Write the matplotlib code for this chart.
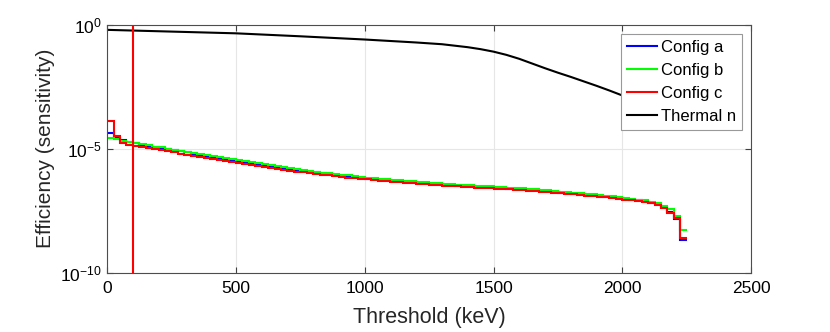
import numpy as np
import matplotlib.pyplot as plt
from matplotlib.ticker import FixedLocator, LogFormatterSciNotation, NullLocator

plt.rcParams.update({
    "font.family": ["Liberation Sans", "DejaVu Sans"],
    "mathtext.fontset": "custom",
    "mathtext.rm": "Liberation Sans",
    "mathtext.it": "Liberation Sans:italic",
    "font.size": 12,
})

# bin edges of the threshold scan (keV)
BIN_START = 0
BIN_WIDTH = 25
N_BINS = 90

# log10 of efficiency per bin
config_b_log = [
    -4.56, -4.60, -4.68, -4.73,
    -4.76, -4.81, -4.86, -4.91, -4.95, -5.00, -5.04, -5.09, -5.13, -5.18,
    -5.22, -5.26, -5.30, -5.35, -5.39, -5.43, -5.47, -5.51, -5.55, -5.59,
    -5.63, -5.67, -5.71, -5.74, -5.78, -5.82, -5.85, -5.89, -5.92, -5.96,
    -5.99, -6.02, -6.05, -6.08, -6.11, -6.14, -6.17, -6.19, -6.22, -6.24,
    -6.26, -6.28, -6.30, -6.32, -6.34, -6.36, -6.38, -6.40, -6.42, -6.43,
    -6.45, -6.46, -6.48, -6.49, -6.51, -6.52, -6.54, -6.55, -6.57, -6.58,
    -6.60, -6.62, -6.64, -6.66, -6.68, -6.70, -6.73, -6.75, -6.77, -6.80,
    -6.82, -6.84, -6.87, -6.89, -6.92, -6.95, -6.98, -7.01, -7.05, -7.09,
    -7.14, -7.20, -7.30, -7.45, -7.70, -8.30,
]
config_a_log = [
    -4.36, -4.55, -4.66, -4.72,
    -4.78, -4.83, -4.88, -4.93, -4.97, -5.02, -5.06, -5.11, -5.15, -5.20,
    -5.24, -5.28, -5.32, -5.37, -5.41, -5.45, -5.49, -5.53, -5.57, -5.61,
    -5.65, -5.69, -5.73, -5.77, -5.81, -5.85, -5.88, -5.92, -5.95, -5.99,
    -6.02, -6.05, -6.09, -6.12, -6.15, -6.18, -6.21, -6.23, -6.26, -6.28,
    -6.30, -6.32, -6.34, -6.36, -6.38, -6.40, -6.42, -6.44, -6.46, -6.47,
    -6.49, -6.50, -6.52, -6.53, -6.55, -6.56, -6.58, -6.59, -6.61, -6.62,
    -6.64, -6.66, -6.68, -6.70, -6.72, -6.74, -6.77, -6.79, -6.81, -6.84,
    -6.86, -6.88, -6.91, -6.93, -6.96, -6.99, -7.02, -7.05, -7.09, -7.13,
    -7.18, -7.25, -7.37, -7.55, -7.85, -8.70,
]
config_c_log = [
    -3.87, -4.48, -4.77, -4.85,
    -4.88, -4.92, -4.97, -5.02, -5.06, -5.11, -5.15, -5.20, -5.24, -5.29,
    -5.33, -5.37, -5.41, -5.46, -5.50, -5.54, -5.58, -5.62, -5.66, -5.70,
    -5.74, -5.78, -5.82, -5.85, -5.89, -5.92, -5.95, -5.98, -6.01, -6.05,
    -6.08, -6.11, -6.14, -6.17, -6.19, -6.22, -6.24, -6.27, -6.29, -6.31,
    -6.33, -6.35, -6.37, -6.39, -6.41, -6.43, -6.45, -6.47, -6.49, -6.50,
    -6.52, -6.53, -6.55, -6.57, -6.58, -6.60, -6.61, -6.63, -6.64, -6.66,
    -6.67, -6.69, -6.71, -6.73, -6.75, -6.77, -6.80, -6.82, -6.84, -6.87,
    -6.89, -6.91, -6.94, -6.96, -6.99, -7.02, -7.05, -7.08, -7.12, -7.16,
    -7.21, -7.28, -7.40, -7.58, -7.80, -8.60,
]

# thermal neutron efficiency (keV, log10)
thermal_e = [0, 250, 500, 750, 1000, 1100, 1200, 1300, 1400, 1450, 1500, 1550,
             1600, 1650, 1700, 1750, 1800, 1850, 1900, 1950, 2000, 2050, 2100]
thermal_log = [-0.20, -0.27, -0.34, -0.46, -0.59, -0.65, -0.71, -0.78, -0.90, -0.98,
               -1.08, -1.21, -1.37, -1.56, -1.75, -1.93, -2.10, -2.28, -2.46, -2.65,
               -2.85, -3.05, -3.25]

cut_threshold = 100  # keV

edges = BIN_START + BIN_WIDTH * np.arange(N_BINS + 1)

fig = plt.figure(figsize=(8.3, 3.32), dpi=100)
ax = fig.add_axes([0.129, 0.179, 0.776, 0.746])

ax.stairs(10.0 ** np.array(config_a_log), edges, baseline=None, color=(0, 0, 1), lw=1.5, label="Config a")
ax.stairs(10.0 ** np.array(config_b_log), edges, baseline=None, color=(0, 1, 0), lw=1.5, label="Config b")
ax.stairs(10.0 ** np.array(config_c_log), edges, baseline=None, color=(1, 0, 0), lw=1.5, label="Config c")
ax.plot(thermal_e, 10.0 ** np.array(thermal_log), color="black", lw=1.5, label="Thermal n")
ax.axvline(cut_threshold, color=(1, 0, 0), lw=1.5)

ax.set_yscale("log")
ax.set_xlim(0, 2500)
ax.set_ylim(1e-10, 1)
ax.set_xticks(np.arange(0, 2501, 500))
ax.yaxis.set_major_locator(FixedLocator([1e-10, 1e-5, 1e0]))
ax.yaxis.set_major_formatter(LogFormatterSciNotation())
ax.yaxis.set_minor_locator(NullLocator())

ax.grid(True, color="0.9", lw=0.8)
ax.set_axisbelow(True)
ax.tick_params(direction="in", top=True, right=True, labelsize=12.5, length=4,
               color="0.25", width=0.8)
ax.tick_params(axis="x", pad=6)
for sp in ax.spines.values():
    sp.set_color("0.3")
    sp.set_linewidth(0.8)

ax.set_xlabel("Threshold (keV)", fontsize=15.5, color="0.15", labelpad=8)
ax.set_ylabel("Efficiency (sensitivity)", fontsize=15, color="0.15", labelpad=4)

leg = ax.legend(loc="upper right", fontsize=12, frameon=True, fancybox=False,
                framealpha=1, edgecolor="0.6", borderpad=0.35, handlelength=1.8,
                handletextpad=0.25, labelspacing=0.48, borderaxespad=0.55)
leg.get_frame().set_linewidth(0.8)

fig.savefig("out.png", dpi=100)
